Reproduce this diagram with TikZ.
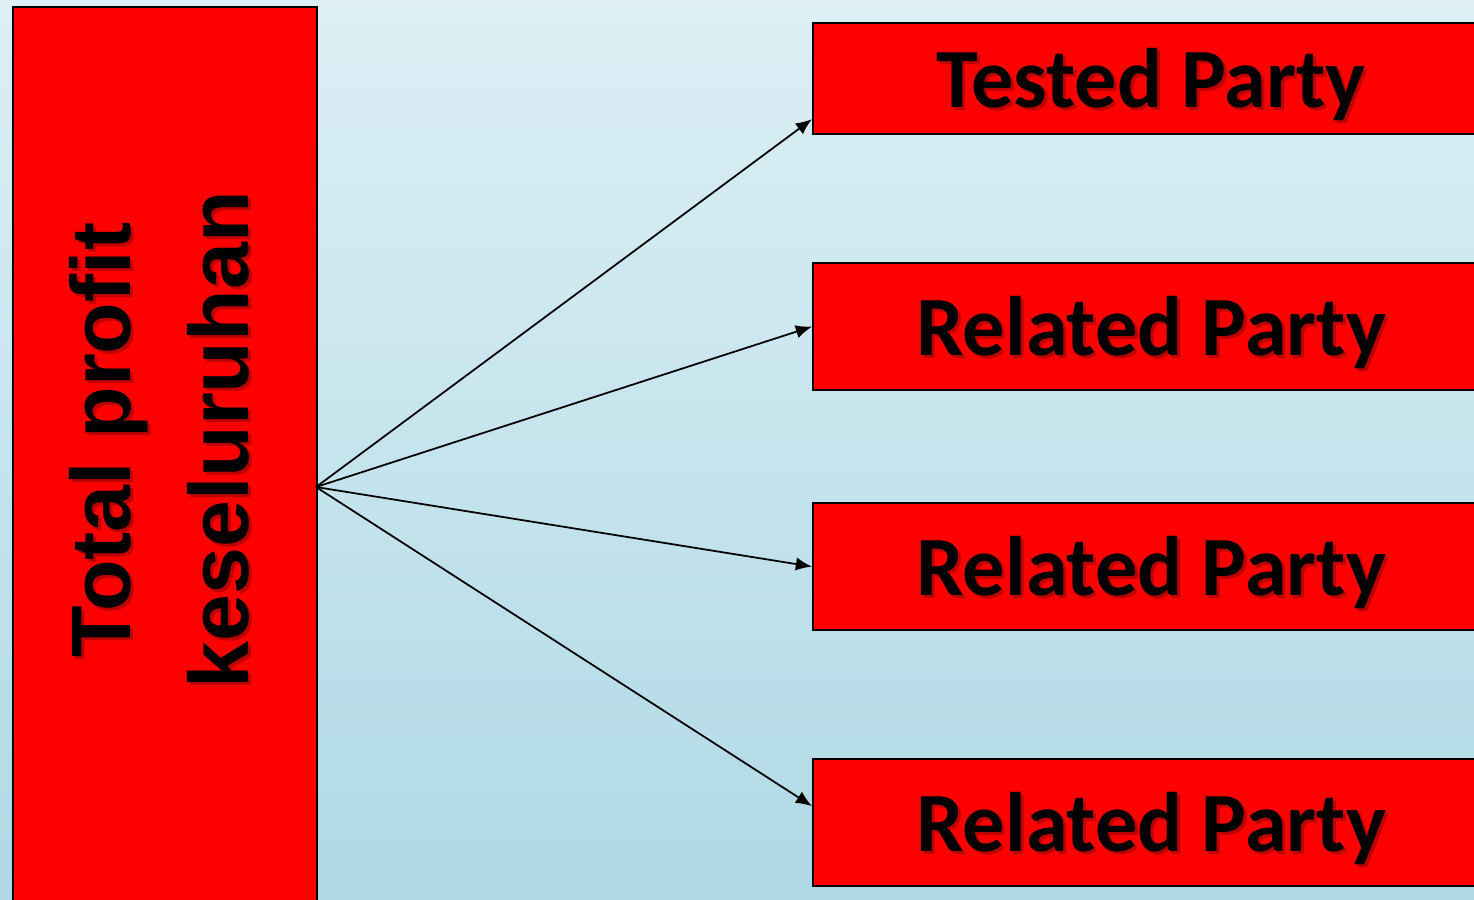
\documentclass[tikz,border=0pt]{standalone}
\usepackage{fontspec}
\usepackage{xcolor}
\usepackage{tikz}
\usetikzlibrary{
  arrows.meta,
  positioning
}

\newfontfamily\partyfont{Carlito}
\newfontfamily\profitfont{Liberation Sans}

\definecolor{sky-top}{RGB}{221,239,245}
\definecolor{sky-bottom}{RGB}{175,217,229}

\tikzset{
  party box/.style={
    rectangle,
    draw=black,
    line width=0.6pt,
    fill=red,
    anchor=north west,
    inner sep=0pt
  },
  party text/.style={
    font=\partyfont\bfseries\fontsize{24}{28}\selectfont,
    text=black,
    inner sep=0pt,
    anchor=base
  },
  profit text/.style={
    font=\profitfont\bfseries\fontsize{24}{28}\selectfont,
    text=black,
    inner sep=0pt,
    anchor=base,
    rotate=90
  },
  text shadow/.style={text opacity=0.25},
  fan/.style={-{Latex[length=4.6pt,width=3.8pt]}, line width=0.5pt}
}

\begin{document}
\begin{tikzpicture}[x=0.01cm, y=-0.01cm]

\useasboundingbox (0,0) rectangle (1474,899);
\clip (0,0) rectangle (1474,899);
\shade[top color=sky-top, bottom color=sky-bottom] (0,0) rectangle (1474,899);

% left block
\node[party box, minimum width=3.04cm, minimum height=9.4cm] (total-profit) at (12,6) {};
\node[profit text, text shadow] (total-profit-shadow-1) at (133,443) {Total profit};
\node[profit text, text shadow] (total-profit-shadow-2) at (251,443) {keseluruhan};
\node[profit text] (total-profit-1) at (130,440) {Total profit};
\node[profit text] (total-profit-2) at (248,440) {keseluruhan};

% right blocks
\foreach \ytop/\high/\boxname/\boxlabel in {
  22/1.11/tested-party/Tested Party,
  262/1.27/related-party-1/Related Party,
  502/1.27/related-party-2/Related Party,
  758/1.27/related-party-3/Related Party
}{
  \node[party box, minimum width=6.76cm, minimum height=\high cm] (\boxname) at (812,\ytop) {};
  \node[party text, text shadow] (\boxname-shadow) at ([xshift=0.03cm,yshift=-0.315cm]\boxname.center) {\boxlabel};
  \node[party text] (\boxname-label) at ([yshift=-0.285cm]\boxname.center) {\boxlabel};
}

% arrows
\coordinate (fan-root) at (316,487);
\draw[fan] (fan-root) -- ([yshift=-0.405cm]tested-party.west);
\draw[fan] (fan-root) -- (related-party-1.west);
\draw[fan] (fan-root) -- (related-party-2.west);
\draw[fan] (fan-root) -- ([yshift=0.165cm]related-party-3.west);

\end{tikzpicture}
\end{document}
